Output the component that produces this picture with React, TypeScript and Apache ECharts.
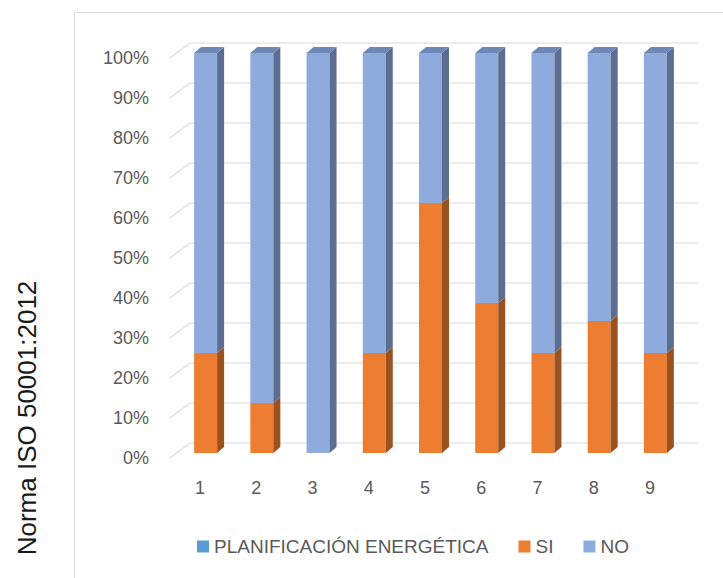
import React, { useEffect, useRef } from "react";
import * as echarts from "echarts";

const categories = ["1", "2", "3", "4", "5", "6", "7", "8", "9"];
const siValues = [25, 12.5, 0, 25, 62.5, 37.5, 25, 33, 25];
const noValues = [75, 87.5, 100, 75, 37.5, 62.5, 75, 67, 75];
const yTicks = [0, 10, 20, 30, 40, 50, 60, 70, 80, 90, 100];
const legendNames = ["PLANIFICACIÓN ENERGÉTICA", "SI", "NO"];
const yTitle = "Norma ISO 50001:2012";

const FONT = "'Liberation Sans', Arial, sans-serif";

function barRenderer(front: string, side: string, top: string) {
  return (params: any, api: any) => {
    const cat = api.value(0);
    const start = api.value(1);
    const end = api.value(2);
    if (end - start <= 0) return { type: "group", children: [] };
    const [cx, y0] = api.coord([cat, start]);
    const y1 = api.coord([cat, end])[1];
    const w = 23;
    const left = cx + 5.5 - w / 2;
    const yb = y0 - 5;
    const yt = y1 - 5;
    const dx = 7;
    const dy = -6;
    const children: any[] = [
      {
        type: "rect",
        shape: { x: left, y: yt, width: w, height: yb - yt },
        style: { fill: front },
      },
      {
        type: "polygon",
        shape: {
          points: [
            [left + w, yb],
            [left + w + dx, yb + dy],
            [left + w + dx, yt + dy],
            [left + w, yt],
          ],
        },
        style: { fill: side },
      },
    ];
    if (end >= 100) {
      children.push({
        type: "polygon",
        shape: {
          points: [
            [left, yt],
            [left + dx, yt + dy],
            [left + w + dx, yt + dy],
            [left + w, yt],
          ],
        },
        style: { fill: top },
      });
    }
    return { type: "group", children };
  };
}

export default function App() {
  const ref = useRef<HTMLDivElement>(null);
  useEffect(() => {
    if (!ref.current) return;
    const chart = echarts.init(ref.current, undefined, { renderer: "svg" });
    const siData = categories.map((_, i) => [i, 0, siValues[i]]);
    const noData = categories.map((_, i) => [i, siValues[i], siValues[i] + noValues[i]]);
    const option: any = {
      animation: false,
      backgroundColor: "#ffffff",
      grid: { left: 172, right: 45, top: 58, bottom: 120 },
      graphic: [
        {
          type: "rect",
          z: -10,
          silent: true,
          shape: { x: 74.5, y: 12.5, width: 800, height: 800 },
          style: { fill: "none", stroke: "#d9d9d9", lineWidth: 1 },
        },
        {
          type: "text",
          x: 27,
          y: 418,
          rotation: Math.PI / 2,
          style: {
            text: yTitle,
            fill: "#1a1a1a",
            font: `26px ${FONT}`,
            align: "center",
            verticalAlign: "middle",
          },
        },
      ],
      legend: {
        data: legendNames,
        left: 192,
        top: 532,
        icon: "rect",
        itemWidth: 12,
        itemHeight: 12,
        itemGap: 30,
        textStyle: { color: "#595959", fontSize: 19, fontFamily: FONT },
      },
      xAxis: {
        type: "category",
        data: categories,
        axisLine: { show: false },
        axisTick: { show: false },
        axisLabel: { color: "#595959", fontSize: 18, fontFamily: FONT, margin: 21 },
        splitLine: { show: false },
      },
      yAxis: {
        type: "value",
        min: 0,
        max: 100,
        interval: 10,
        axisLine: { show: false },
        axisTick: { show: false },
        splitLine: { show: false },
        axisLabel: {
          color: "#595959",
          fontSize: 18,
          fontFamily: FONT,
          margin: 23,
          formatter: "{value}%",
        },
      },
      series: [
        {
          name: "gridlines",
          type: "custom",
          silent: true,
          z: 1,
          data: yTicks.map((v) => [0, v]),
          encode: { x: 0, y: 1 },
          renderItem: (params: any, api: any) => {
            const v = api.value(1);
            const [x0, y] = api.coord([0, v]);
            const band = api.size([1, 0])[0];
            const left = x0 - band / 2 - 2;
            const right = api.coord([categories.length - 1, v])[0] + band / 2 + 20;
            return {
              type: "polyline",
              shape: {
                points: [
                  [left, y],
                  [left + 20, y - 15],
                  [right, y - 15],
                ],
              },
              style: { stroke: "#d9d9d9", lineWidth: 1.2, fill: "none" },
            };
          },
        },
        {
          name: legendNames[0],
          type: "custom",
          itemStyle: { color: "#5B9BD5" },
          data: [],
          renderItem: () => ({ type: "group", children: [] }),
        },
        {
          name: legendNames[1],
          type: "custom",
          z: 3,
          itemStyle: { color: "#ED7D31" },
          data: siData,
          encode: { x: 0, y: [1, 2] },
          renderItem: barRenderer("#ED7D31", "#9C521F", "#C2652A"),
        },
        {
          name: legendNames[2],
          type: "custom",
          z: 3,
          itemStyle: { color: "#8FAADC" },
          data: noData,
          encode: { x: 0, y: [1, 2] },
          renderItem: barRenderer("#8FAADC", "#5B6E91", "#6F87B6"),
        },
      ],
    };
    chart.setOption(option);
    return () => chart.dispose();
  }, []);
  return (
    <div
      ref={ref}
      style={{ position: "fixed", left: 0, top: 0, width: 723, height: 578 }}
    />
  );
}
